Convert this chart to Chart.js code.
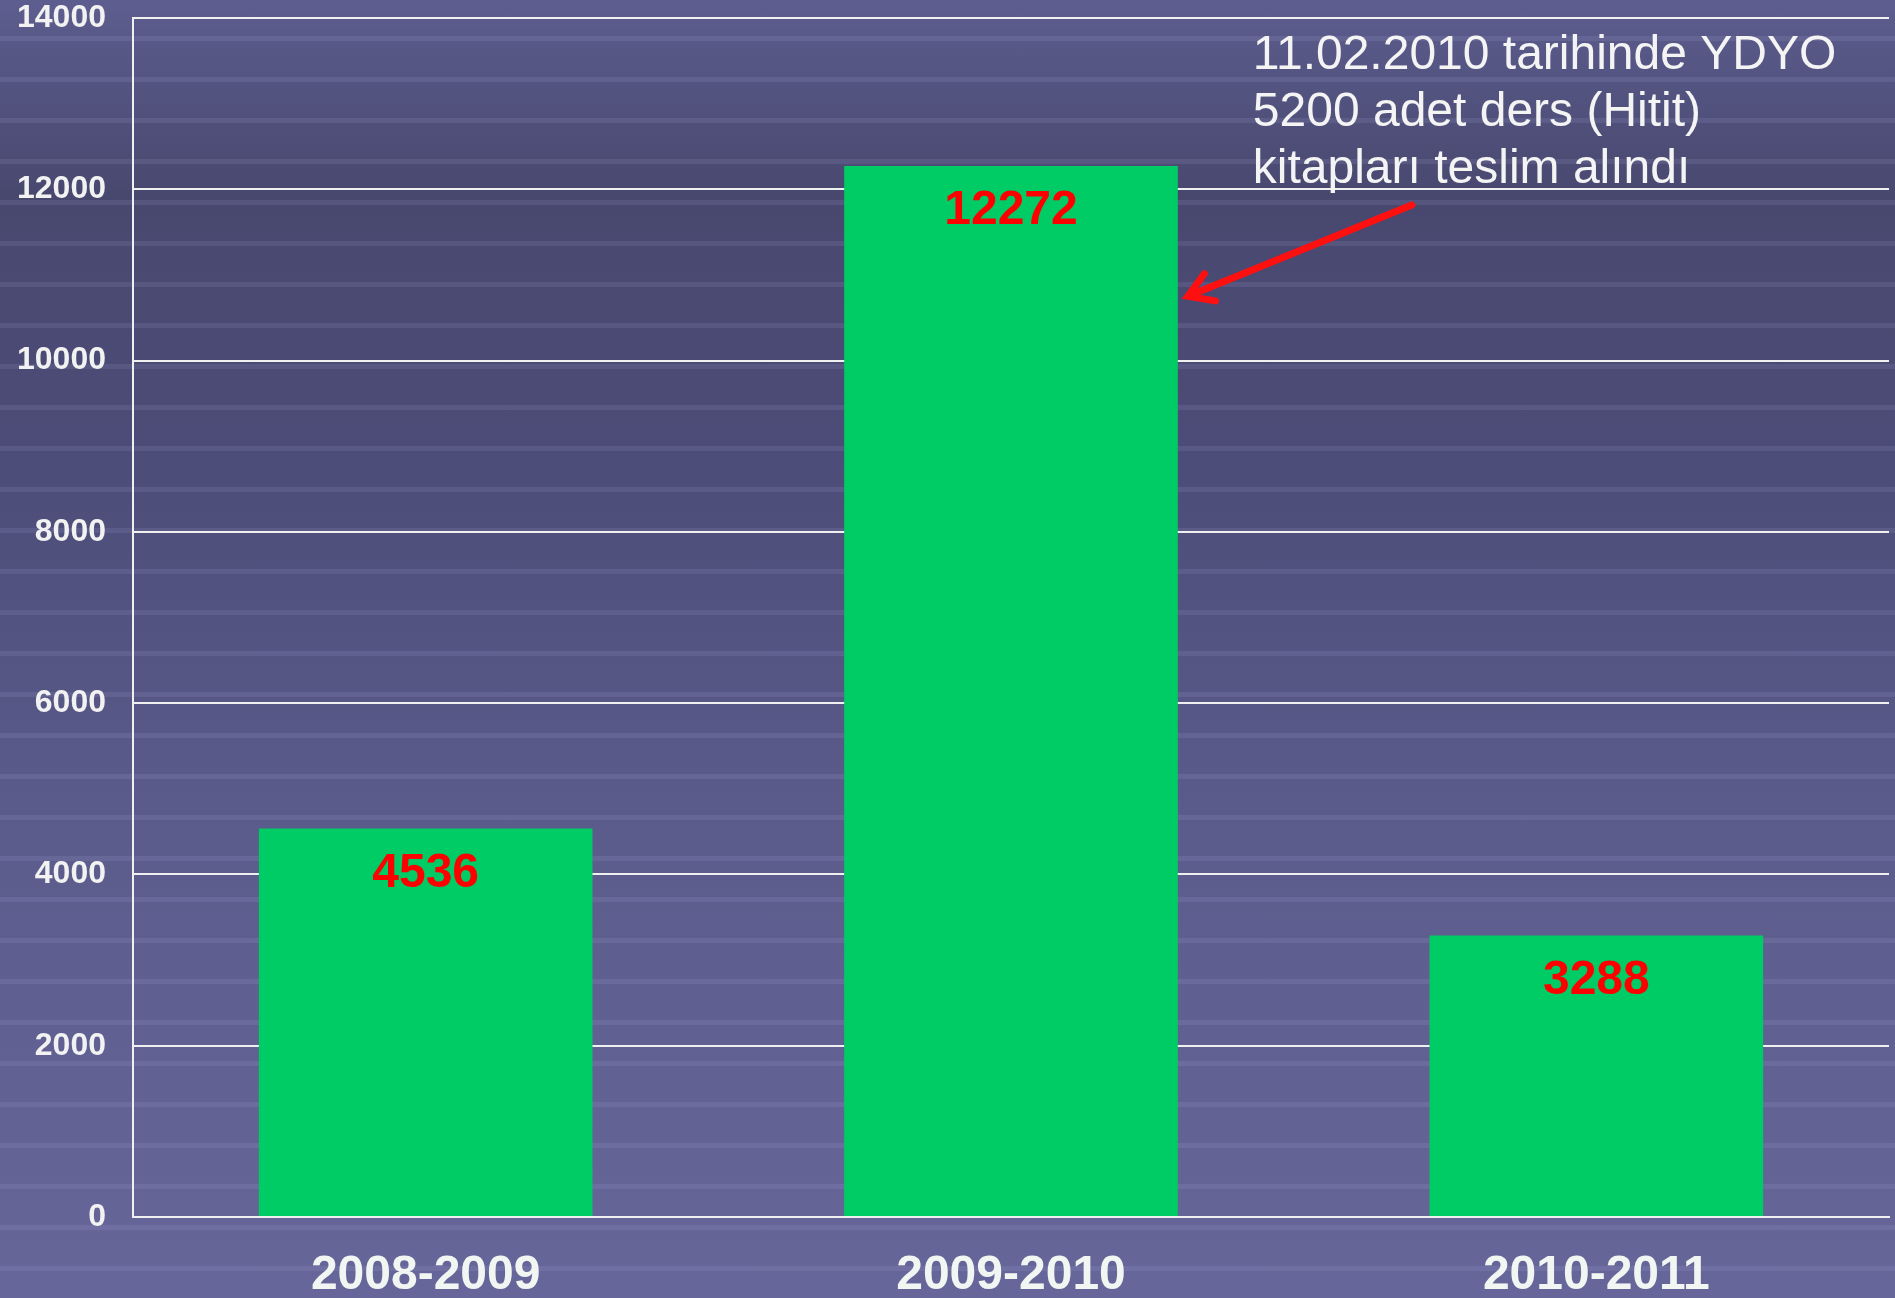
<!DOCTYPE html>
<html>
<head>
<meta charset="utf-8">
<script src="https://cdn.jsdelivr.net/npm/chart.js@4"></script>
<style>
    html, body {
        margin: 0;
        padding: 0;
        width: 1895px;
        height: 1298px;
        overflow: hidden;
    }
    body {
        background:
            repeating-linear-gradient(180deg, rgba(255,255,255,0) 0px, rgba(255,255,255,0) 36px, rgba(200,200,255,0.10) 36px, rgba(200,200,255,0.10) 41px),
            linear-gradient(180deg, #5d5d8f 0%, #48486f 15%, #4c4c78 35%, #5a5a8a 60%, #66669a 100%);
    }
    #wrap {
        position: relative;
        width: 1895px;
        height: 1298px;
    }
</style>
</head>
<body>
<div id="wrap"><canvas id="chart-books"></canvas></div>
<script>
const labels = ['2008-2009', '2009-2010', '2010-2011'];
const books = [4536, 12272, 3288];
const yTicks = [0, 2000, 4000, 6000, 8000, 10000, 12000, 14000];
const note = ['11.02.2010 tarihinde YDYO', '5200 adet ders (Hitit)', 'kitapları teslim alındı'];
const notePointValue = 10750;

const FONT = '"Liberation Sans", Arial, sans-serif';

// red value labels inside bar tops + the note with its arrow
const barLabels = {
    id: 'barLabels',
    afterDatasetsDraw(chart) {
        const ctx = chart.ctx;
        const meta = chart.getDatasetMeta(0);
        ctx.save();
        ctx.fillStyle = '#ff0000';
        ctx.font = 'bold 48px ' + FONT;
        ctx.textAlign = 'center';
        ctx.textBaseline = 'middle';
        meta.data.forEach((bar, i) => {
            ctx.fillText(String(books[i]), bar.x, bar.y + 45);
        });
        ctx.restore();
    },
    afterDraw(chart) {
        const ctx = chart.ctx;
        const bar = chart.getDatasetMeta(0).data[1];
        const right = bar.x + bar.width / 2;
        ctx.save();
        ctx.fillStyle = '#f4f4f4';
        ctx.font = '48px ' + FONT;
        ctx.textAlign = 'left';
        ctx.textBaseline = 'alphabetic';
        note.forEach((line, i) => {
            ctx.fillText(line, right + 75, 69 + i * 57);
        });

        // arrow
        const tipX = right + 10;
        const tipY = chart.scales.y.getPixelForValue(notePointValue);
        const tailX = right + 234;
        const tailY = 205;
        const ang = Math.atan2(tailY - tipY, tailX - tipX);
        ctx.strokeStyle = '#ff1010';
        ctx.lineWidth = 7;
        ctx.lineCap = 'round';
        ctx.beginPath();
        ctx.moveTo(tailX, tailY);
        ctx.lineTo(tipX + 4 * Math.cos(ang), tipY + 4 * Math.sin(ang));
        ctx.stroke();
        ctx.beginPath();
        ctx.moveTo(tipX + 28 * Math.cos(ang - 0.55), tipY + 28 * Math.sin(ang - 0.55));
        ctx.lineTo(tipX, tipY);
        ctx.lineTo(tipX + 28 * Math.cos(ang + 0.55), tipY + 28 * Math.sin(ang + 0.55));
        ctx.stroke();
        ctx.restore();
    }
};

const data = {
    labels: labels,
    datasets: [
        {
            label: 'Kitap',
            backgroundColor: 'rgb(0, 204, 102)',
            borderWidth: 0,
            data: books,
            barPercentage: 0.57,
            categoryPercentage: 1.0
        }
    ]
};

const options = {
    responsive: false,
    animation: false,
    layout: {
        padding: { top: 0, right: 6, left: 0, bottom: 0 }
    },
    scales: {
        x: {
            grid: { display: false, drawTicks: false },
            border: { display: true, color: '#f0f0f0', width: 2 },
            ticks: {
                color: '#f2f6f2',
                font: { family: FONT, size: 48, weight: 'bold' },
                padding: 30,
                maxRotation: 0
            },
            afterFit(scale) { scale.height = 81; }
        },
        y: {
            min: 0,
            max: 14000,
            afterBuildTicks(scale) { scale.ticks = yTicks.map(v => ({ value: v })); },
            grid: { color: '#f0f0f0', lineWidth: 2, drawTicks: false },
            border: { display: true, color: '#f0f0f0', width: 2 },
            ticks: {
                color: '#f2f2f2',
                font: { family: FONT, size: 32, weight: 'bold' },
                padding: 27,
                callback: (v) => String(v)
            },
            afterFit(scale) {
                scale.width = 133;
                scale.paddingTop = 18;
                scale.paddingBottom = 0;
            }
        }
    },
    plugins: {
        legend: { display: false },
        tooltip: { enabled: false }
    }
};

const canvas = document.getElementById('chart-books');
canvas.width = 1895;
canvas.height = 1298;

const chart_books = new Chart(canvas, {
    type: 'bar',
    data: data,
    options: options,
    plugins: [barLabels]
});
</script>
</body>
</html>
